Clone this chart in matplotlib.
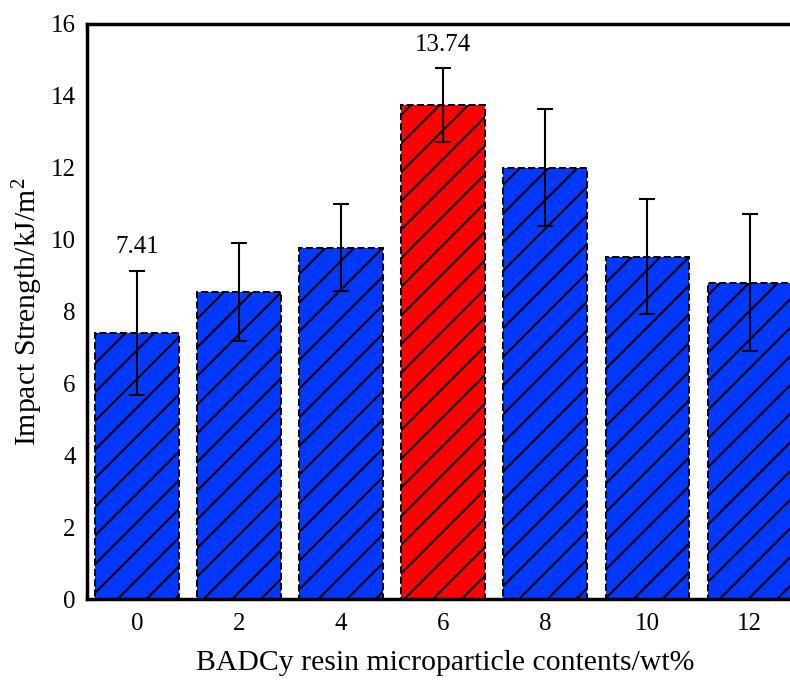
import matplotlib.pyplot as plt
import numpy as np

plt.rcParams['font.family'] = ['Liberation Serif', 'DejaVu Serif']
plt.rcParams['mathtext.fontset'] = 'custom'
plt.rcParams['mathtext.rm'] = 'Liberation Serif'
plt.rcParams['mathtext.it'] = 'Liberation Serif:italic'

contents = ['0', '2', '4', '6', '8', '10', '12']
strength = [7.41, 8.55, 9.78, 13.74, 12.0, 9.53, 8.80]
errors = [1.72, 1.36, 1.22, 1.02, 1.63, 1.60, 1.91]
colors = ['#0038ff', '#0038ff', '#0038ff', '#ff0000', '#0038ff', '#0038ff', '#0038ff']

# lower dpi gives a sparser hatch; sizes are scaled so pixels stay the same
DPI = 86
k = 100 / DPI
plt.rcParams['hatch.linewidth'] = 1.5 * k

fig = plt.figure(figsize=(790 / DPI, 681 / DPI), dpi=DPI)
# the original figure is cropped on the right, so the axes run past the edge
ax = fig.add_axes([0.110, 0.120, 0.906, 0.845])

x = np.arange(len(contents))
ax.bar(x, strength, width=0.82, color=colors, edgecolor='black', hatch='/',
       linestyle='--', linewidth=1.4 * k, zorder=2)
ax.errorbar(x, strength, yerr=errors, fmt='none', ecolor='black',
            elinewidth=1.5 * k, capsize=6 * k, capthick=1.5 * k, zorder=3)

# value labels on the lowest and highest bars
for i in (0, 3):
    ax.text(x[i], strength[i] + errors[i] + 0.35, f'{strength[i]:.2f}',
            ha='center', va='bottom', fontsize=18 * k)

ax.set_xlim(-0.49, 6.52)
ax.set_ylim(0, 16)
ax.set_xticks(x)
ax.set_xticklabels(contents)
ax.set_yticks(np.arange(0, 17, 2))
ax.tick_params(length=0, labelsize=18 * k, pad=10 * k)
ax.tick_params(axis='y', pad=8 * k)

for side in ('left', 'bottom', 'top'):
    ax.spines[side].set_linewidth(2.5 * k)
ax.spines['right'].set_visible(False)

ax.set_xlabel('BADCy resin microparticle contents/wt%', fontsize=21.4 * k, labelpad=11 * k)
ax.set_ylabel('Impact Strength/kJ/m$^{2}$', fontsize=21.4 * k, labelpad=4 * k)

fig.savefig('out.png', dpi=DPI)
